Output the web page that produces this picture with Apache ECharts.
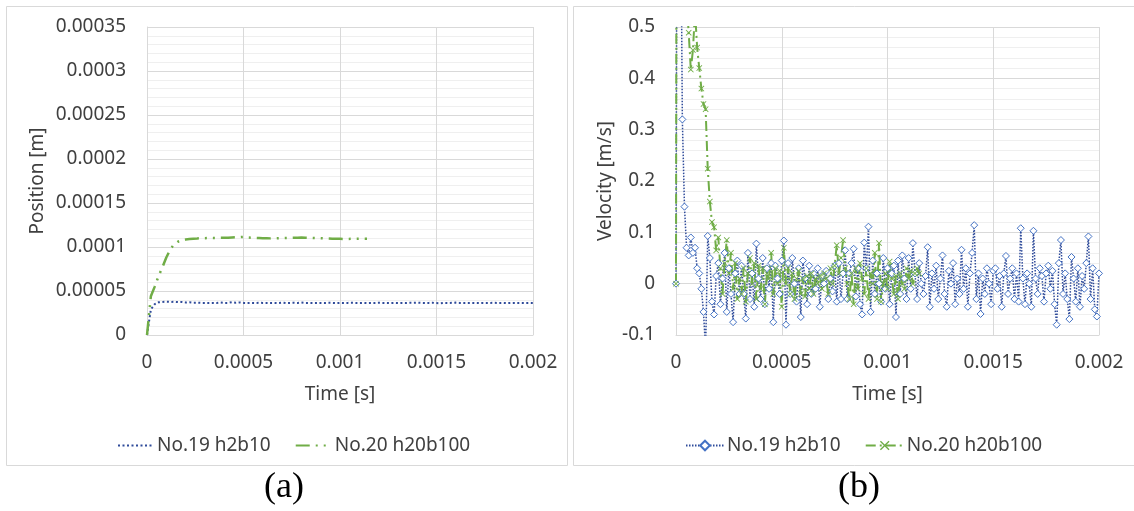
<!DOCTYPE html>
<html><head><meta charset="utf-8">
<script src="https://cdn.jsdelivr.net/npm/echarts@6/dist/echarts.min.js"></script>
<style>html,body{margin:0;padding:0;background:#fff}#c{width:1134px;height:511px}</style>
</head><body><div id="c"></div>
<script>
// ---------- data ----------
const seriesNames = ['No.19 h2b10', 'No.20 h20b100'];
const timeTicks = [0, 0.0005, 0.001, 0.0015, 0.002];
const posTicks = [0, 0.00005, 0.0001, 0.00015, 0.0002, 0.00025, 0.0003, 0.00035];
const velTicks = [-0.1, 0, 0.1, 0.2, 0.3, 0.4, 0.5];

// Position, sampled every 0.00002 s, values in micrometres
const posStep = 0.00002;
const pos19um = [
  0, 29, 35, 37.2, 37.6, 37.8, 37.6, 37.7, 37.4, 37.5,
  37.0, 37.2, 36.6, 36.8, 36.5, 36.5, 36.4, 36.5, 36.3, 36.9,
  36.4, 36.5, 37.3, 36.6, 37.0, 36.5, 36.4, 36.5, 36.4, 36.6,
  36.5, 36.5, 36.4, 36.5, 36.3, 36.7, 36.2, 36.5, 36.6, 36.4,
  37.0, 36.5, 36.5, 36.4, 36.5, 36.5, 36.4, 36.6, 36.5, 36.3,
  36.5, 36.4, 36.5, 36.6, 36.5, 36.4, 36.5, 36.3, 36.5, 36.4,
  36.6, 36.5, 36.5, 36.4, 36.5, 36.3, 36.5, 36.4, 36.6, 36.5,
  36.8, 36.5, 36.4, 36.5, 36.6, 36.3, 36.0, 36.5, 36.4, 36.6,
  36.8, 36.5, 36.4, 36.5, 36.5, 36.4, 36.3, 36.5, 36.4, 36.5,
  36.6, 36.4, 36.5, 36.3, 36.4, 36.5, 36.4, 36.5, 36.4, 36.5,
  36.4
];
const pos20um = [
  0, 44, 55, 67, 77, 88, 97, 103, 106, 107.5,
  108.5, 109, 109.5, 109.7, 110, 110, 110.2, 110.3, 110.2, 110.4,
  110.5, 110.6, 110.8, 111, 111.2, 111.5, 110.8, 110.5, 110.3, 110.2,
  110, 110, 109.8, 109.8, 110, 110.2, 110.3, 110.4, 110.5, 110.6,
  110.7, 110.6, 110.5, 110.3, 110.1, 110, 109.8, 109.6, 109.4, 109.4,
  109.3, 109.2, 109.2, 109.3, 109.4, 109.5, 109.5, 109.5
];

// Velocity, sampled every 0.00001 s, values in m/s
const velStep = 0.00001;
const vel19 = [
  0,
  1.8, 0.9, 0.32, 0.15, 0.07, 0.055, 0.09, 0.06, 0.07, 0.03,
  0.02, -0.01, -0.055, -0.13, 0.093, 0.05, -0.035, -0.06, 0.015, 0.04,
  -0.04, 0.01, 0.06, -0.055, 0.03, -0.02, -0.075, 0.02, 0.045, -0.02,
  0.035, -0.02, -0.068, 0.06, -0.03, 0.02, -0.045, 0.078, 0.01, -0.03,
  0.05, -0.04, 0.03, -0.01, 0.04, -0.075, 0.035, 0.01, -0.02, 0.045,
  0.084, -0.08, 0.04, -0.02, 0.05, 0.0, -0.035, 0.03, -0.065, 0.045,
  0.01, -0.04, 0.035, -0.02, 0.02, -0.01, 0.03, -0.045, 0.015, 0.0,
  0.025, -0.03, 0.01, -0.015, 0.035, -0.035, 0.04, -0.03, 0.02, 0.065,
  -0.03, 0.02, 0.04, 0.068, -0.025, 0.03, -0.04, -0.06, 0.08, 0.03,
  0.111, -0.055, 0.045, -0.02, 0.02, 0.0, -0.035, 0.05, -0.01, 0.03,
  -0.04, 0.02, 0.035, -0.065, 0.045, -0.02, 0.055, 0.01, -0.03, 0.05,
  -0.01, 0.079, 0.02, -0.03, 0.04, 0.0, -0.02, 0.015, 0.071, -0.045,
  0.02, -0.01, 0.035, -0.03, 0.01, 0.055, -0.02, -0.045, 0.025, 0.0,
  0.04, -0.04, 0.01, -0.02, 0.066, -0.01, 0.03, -0.045, 0.02, 0.06,
  0.114, -0.03, 0.02, -0.059, 0.01, -0.02, 0.03, 0.0, -0.04, 0.025,
  0.03, -0.01, 0.015, -0.045, 0.02, 0.054, -0.02, 0.01, 0.03, -0.03,
  0.02, -0.035, 0.108, 0.01, -0.04, 0.02, 0.0, -0.045, 0.103, 0.01,
  -0.02, 0.03, 0.015, -0.035, 0.02, 0.035, -0.01, 0.025, -0.04, -0.08,
  0.04, 0.085, -0.02, 0.02, -0.03, -0.069, 0.052, 0.01, -0.035, 0.03,
  -0.045, 0.015, -0.01, 0.04, 0.092, -0.03, 0.03, -0.05, -0.064, 0.02
];
const vel20 = [
  0,
  3.2, 1.6, 0.9, 0.62, 0.55, 0.489, 0.417, 0.455, 0.53, 0.46,
  0.42, 0.38, 0.35, 0.34, 0.224, 0.16, 0.12, 0.11, 0.065, 0.09,
  0.03, -0.02, 0.04, 0.085, 0.02, 0.06, -0.01, 0.04, -0.03, 0.01,
  -0.02, 0.03, -0.035, 0.02, 0.05, 0.0, 0.04, -0.03, 0.035, -0.01,
  0.03, -0.04, 0.02, 0.01, 0.06, -0.02, 0.03, 0.0, 0.025, -0.045,
  0.07, 0.0, 0.03, -0.02, 0.02, -0.03, 0.01, 0.025, -0.02, 0.01,
  -0.025, 0.015, -0.01, 0.02, -0.02, 0.01, 0.0, 0.015, -0.01, 0.02,
  0.01, -0.02, 0.03, 0.0, 0.035, 0.075, 0.02, 0.05, 0.085, 0.03,
  0.0, -0.03, 0.02, -0.04, 0.03, -0.01, 0.04, 0.01, -0.02, 0.03,
  -0.03, 0.02, 0.0, 0.06, -0.03, 0.079, -0.035, 0.0, 0.02, -0.01,
  0.043, 0.01, -0.02, 0.015, -0.03, 0.02, 0.0, -0.01, 0.03, 0.01,
  0.025, 0.0, 0.02, 0.03, 0.02
];

// ---------- build ----------
const pairs = (arr, step, scale) => arr.map((v, i) => [+(i * step).toFixed(6), v * scale]);
const FONT = '"Noto Sans", "Open Sans", sans-serif';
const TXT = '#404040';
const FS = 19;
const fmt = v => String(parseFloat((+v).toFixed(6)));
const labelStyle = { color: TXT, fontFamily: FONT, fontSize: FS };

function makeX(gi) {
  return {
    type: 'value', gridIndex: gi, min: timeTicks[0], max: timeTicks[timeTicks.length - 1],
    interval: timeTicks[1] - timeTicks[0],
    name: 'Time [s]', nameLocation: 'middle', nameGap: 50,
    nameTextStyle: { color: TXT, fontFamily: FONT, fontSize: FS },
    axisLine: { show: true, onZero: false, lineStyle: { color: '#d9d9d9', width: 1 } },
    axisTick: { show: false },
    axisLabel: Object.assign({ margin: 18, formatter: fmt }, labelStyle),
    splitLine: { show: true, lineStyle: { color: '#d9d9d9', width: 1 } }
  };
}
function makeY(gi, ticks, name, gap) {
  return {
    type: 'value', gridIndex: gi, min: ticks[0], max: ticks[ticks.length - 1],
    interval: +(ticks[1] - ticks[0]).toFixed(6),
    name: name, nameLocation: 'middle', nameGap: gap,
    nameTextStyle: { color: TXT, fontFamily: FONT, fontSize: FS },
    axisLine: { show: true, onZero: false, lineStyle: { color: '#d9d9d9', width: 1 } },
    axisTick: { show: false },
    minorTick: { show: false, splitNumber: 5 },
    minorSplitLine: { show: true, lineStyle: { color: '#efefef', width: 1 } },
    axisLabel: Object.assign({ margin: 21, formatter: fmt }, labelStyle),
    splitLine: { show: true, lineStyle: { color: '#d9d9d9', width: 1 } }
  };
}

const BLUE_DARK = '#2F4B9A';
const BLUE = '#4472C4';
const GREEN = '#70AD47';
const crossPath = 'path://M1,0 L5,4 L9,0 L10,1 L6,5 L10,9 L9,10 L5,6 L1,10 L0,9 L4,5 L0,1 Z';

const chart = echarts.init(document.getElementById('c'), null, { renderer: 'canvas' });
chart.setOption({
  animation: false,
  backgroundColor: '#fff',
  textStyle: { fontFamily: FONT },
  grid: [
    { left: 147, top: 27, width: 386, height: 308 },
    { left: 676, top: 27, width: 423, height: 308 }
  ],
  xAxis: [makeX(0), makeX(1)],
  yAxis: [makeY(0, posTicks, 'Position [m]', 100), makeY(1, velTicks, 'Velocity [m/s]', 61)],
  legend: [
    {
      data: seriesNames, left: 112, top: 431, itemWidth: 36, itemHeight: 12, itemGap: 24,
      itemStyle: { opacity: 0 },
      textStyle: { color: TXT, fontFamily: FONT, fontSize: FS, padding: [0, 0, 0, -2] }
    },
    {
      data: seriesNames.map(n => n + ' '), left: 680, top: 431, itemWidth: 38, itemHeight: 12, itemGap: 24,
      formatter: n => n.trim(),
      textStyle: { color: TXT, fontFamily: FONT, fontSize: FS, padding: [0, 0, 0, -2] }
    }
  ],
  graphic: [
    { type: 'rect', shape: { x: 6.5, y: 6.5, width: 561, height: 459 }, style: { fill: 'none', stroke: '#d9d9d9', lineWidth: 1 }, silent: true, z: -1 },
    { type: 'rect', shape: { x: 573.5, y: 6.5, width: 580, height: 459 }, style: { fill: 'none', stroke: '#d9d9d9', lineWidth: 1 }, silent: true, z: -1 },
    { type: 'text', left: 264, top: 470, style: { text: '(a)', fill: '#000', font: '36px "Liberation Serif", "DejaVu Serif", serif' } },
    { type: 'text', left: 838, top: 470, style: { text: '(b)', fill: '#000', font: '36px "Liberation Serif", "DejaVu Serif", serif' } }
  ],
  series: [
    {
      name: seriesNames[0], type: 'line', xAxisIndex: 0, yAxisIndex: 0,
      data: pairs(pos19um, posStep, 1e-6), symbol: 'none',
      itemStyle: { color: BLUE_DARK },
      lineStyle: { color: BLUE_DARK, width: 2, type: [2, 2.5] }
    },
    {
      name: seriesNames[1], type: 'line', xAxisIndex: 0, yAxisIndex: 0,
      data: pairs(pos20um, posStep, 1e-6), symbol: 'none',
      itemStyle: { color: GREEN },
      lineStyle: { color: GREEN, width: 2.5, type: [14, 6, 2, 6, 2, 6] }
    },
    {
      name: seriesNames[0] + ' ', type: 'line', xAxisIndex: 1, yAxisIndex: 1,
      data: pairs(vel19, velStep, 1), symbol: 'diamond', symbolSize: 7,
      itemStyle: { color: '#ffffff', borderColor: BLUE, borderWidth: 1 },
      lineStyle: { color: BLUE_DARK, width: 1.5, type: [1.5, 1.5] }
    },
    {
      name: seriesNames[1] + ' ', type: 'line', xAxisIndex: 1, yAxisIndex: 1,
      data: pairs(vel20, velStep, 1), symbol: crossPath, symbolSize: 6,
      itemStyle: { color: GREEN },
      lineStyle: { color: GREEN, width: 2, type: [10, 4, 2, 4] }
    }
  ]
});
</script>
</body></html>
